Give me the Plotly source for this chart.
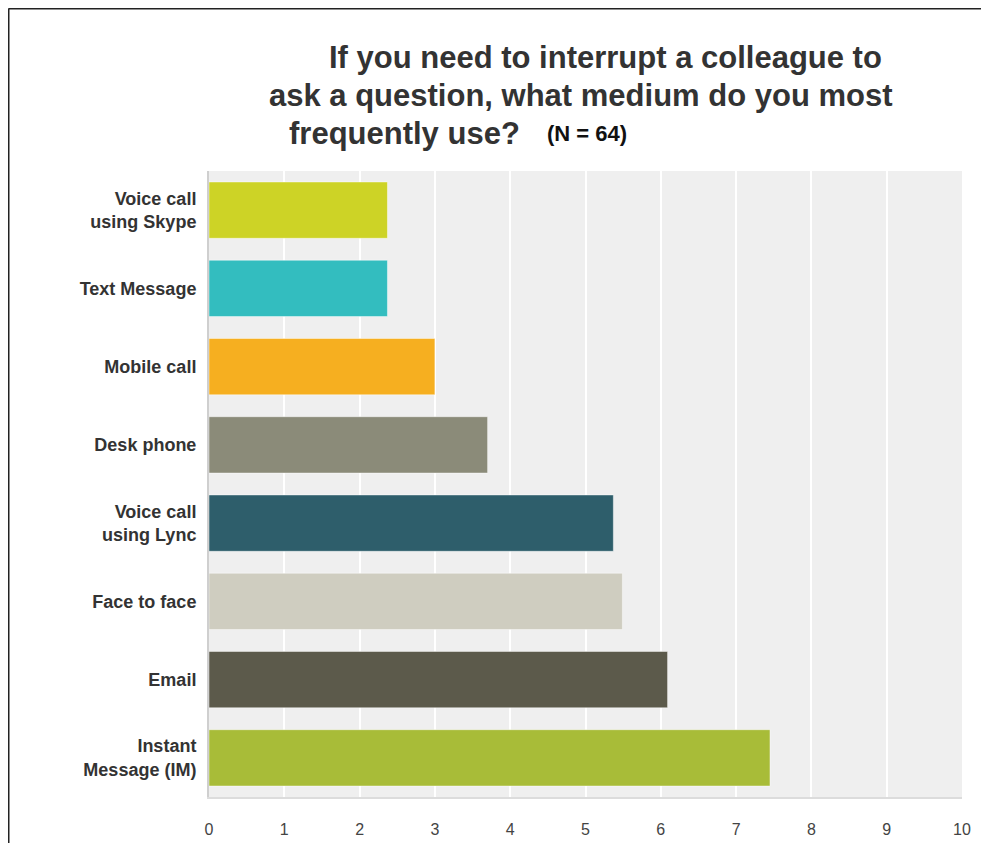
import plotly.graph_objects as go

categories = ["Voice call<br>using Skype", "Text Message", "Mobile call", "Desk phone",
              "Voice call<br>using Lync", "Face to face", "Email", "Instant<br>Message (IM)"]
values = [2.37, 2.37, 3.0, 3.7, 5.37, 5.49, 6.09, 7.45]
colors = ["#cdd326", "#33bdbf", "#f6af20", "#8b8b79", "#2e5e6b", "#cfcdc0", "#5c5a4b", "#a8bc38"]
tick_vals = list(range(0, 11))

OFF = 8  # page body margin
W, H = 989 - OFF, 843 - OFF
L, R, T, B = 209 - OFF, 27, 171 - OFF, 46
PW, PH = W - L - R, H - T - B

def px(X):
    return (X - OFF - L) / PW

def py(Y):
    return (H - B - (Y - OFF)) / PH

fig = go.Figure(go.Bar(
    x=values, y=categories, orientation="h",
    marker=dict(color=colors, line=dict(color="rgba(255,255,255,0.45)", width=1)),
    width=0.72, hoverinfo="skip",
))

FONT = "Liberation Sans, Arial, sans-serif"

fig.update_layout(
    width=W, height=H,
    margin=dict(l=L, r=R, t=T, b=B, pad=0, autoexpand=False),
    paper_bgcolor="white", plot_bgcolor="#efefef",
    showlegend=False,
    font=dict(family=FONT),
    xaxis=dict(range=[0, 10], tickvals=tick_vals, ticktext=[str(v) for v in tick_vals],
               showgrid=True, gridcolor="white", gridwidth=2, zeroline=False,
               showline=True, linecolor="#dcdcdc", linewidth=2, automargin=False,
               tickfont=dict(size=16, color="#444444", family=FONT),
               ticks="outside", ticklen=17, tickcolor="rgba(0,0,0,0)", fixedrange=True),
    yaxis=dict(autorange="reversed", showgrid=False, zeroline=False,
               showline=True, linecolor="#cfcfcf", linewidth=2, automargin=False,
               tickfont=dict(size=18, color="#333333", family=FONT, weight="bold"),
               ticks="outside", ticklen=7, tickcolor="rgba(0,0,0,0)", fixedrange=True),
)

title_font = dict(family=FONT, size=31, color="#333333")
annos = [
    ("<b>If you need to interrupt a colleague to</b>", 327, 58, title_font),
    ("<b>ask a question, what medium do you most</b>", 267, 96, title_font),
    ("<b>frequently use?</b>", 287, 133, title_font),
    ("<b>(N = 64)</b>", 545, 133, dict(family=FONT, size=22, color="#111111")),
]
for text, X, Y, f in annos:
    fig.add_annotation(text=text, xref="paper", yref="paper", x=px(X), y=py(Y),
                       xanchor="left", yanchor="middle", showarrow=False, font=f)

# outer frame (top and left edges)
fig.add_shape(type="line", xref="paper", yref="paper", x0=px(8.5), x1=px(1000),
              y0=py(8.5), y1=py(8.5), line=dict(color="#222222", width=2))
fig.add_shape(type="line", xref="paper", yref="paper", x0=px(8.5), x1=px(8.5),
              y0=py(8.5), y1=py(900), line=dict(color="#222222", width=2))

fig.write_html("out.html")
